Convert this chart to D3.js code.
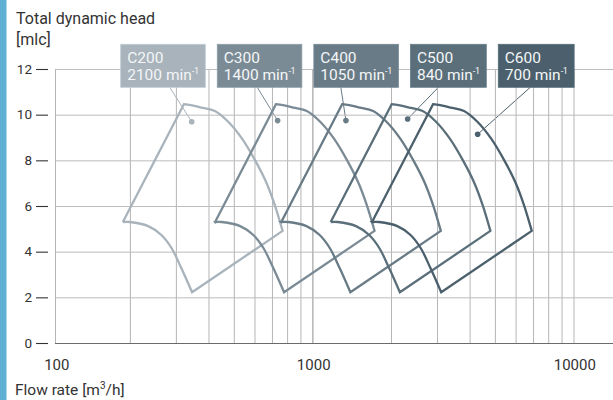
<!DOCTYPE html>
<html>
<head>
<meta charset="utf-8">
<script src="https://cdn.jsdelivr.net/npm/d3@7/dist/d3.min.js"></script>
<style>
  html, body { margin: 0; padding: 0; background: #fff; }
  svg { display: block; font-family: Roboto, "Noto Sans", sans-serif; }
</style>
</head>
<body>
<svg id="chart" width="613" height="400"></svg>
<script>
// ---------------- DATA ----------------
const pumps  = ["C200", "C300", "C400", "C500", "C600"];
const speeds = ["2100", "1400", "1050", "840", "700"];

// Upper boundary: from top-left corner along the curve to the right-hand corner (flow, m3/h)
const topFlow = [
  [322, 350, 376, 423, 476, 536, 602, 668, 718, 769],
  [725, 788, 846, 952, 1071, 1206, 1355, 1503, 1616, 1730],
  [1300, 1413, 1518, 1708, 1922, 2164, 2430, 2697, 2899, 3104],
  [2012, 2187, 2350, 2644, 2975, 3350, 3763, 4175, 4488, 4806],
  [2898, 3150, 3384, 3807, 4284, 4824, 5418, 6012, 6462, 6921]
];
const topHead = [10.46, 10.40, 10.31, 10.16, 9.69, 8.97, 8.02, 7.00, 6.04, 4.91];

// Lower boundary: from the bottom corner up to the left-hand corner (flow, m3/h)
const bottomFlow = [
  [346, 315, 289, 264, 235, 200, 188],
  [779, 709, 650, 594, 529, 450, 424],
  [1398, 1273, 1167, 1066, 949, 808, 760],
  [2163, 1969, 1806, 1650, 1469, 1250, 1175],
  [3114, 2835, 2601, 2376, 2115, 1800, 1692]
];
const bottomHead = [2.22, 3.27, 4.15, 4.73, 5.12, 5.30, 5.30];

// Best-efficiency markers
const dotFlow = [345, 736, 1344, 2316, 4295];
const dotHead = [9.69, 9.74, 9.74, 9.81, 9.14];

const yTicks = [0, 2, 4, 6, 8, 10, 12];
const xTickLabels = [100, 1000, 10000];
const xGrid = [200, 300, 400, 500, 600, 700, 800, 900, 1000,
               2000, 3000, 4000, 5000, 6000, 7000, 8000, 9000, 10000];

// ---------------- STYLE / LAYOUT ----------------
const colors = ["#a8b3bb", "#7b8b96", "#697b86", "#5b6f7b", "#4b606c"];
const leaderOffset = [49, 40, 27, 28, 32];   // x of leader start, relative to box left
const W = 613, H = 400;
const plotLeft = 55, plotRight = 613, plotTop = 69, plotBottom = 343;

const svg = d3.select("#chart");

const x = d3.scaleLog().domain([100, 10000]).range([51.3, 573.5]);
const y = d3.scaleLinear().domain([0, 12]).range([plotBottom, plotTop]);

// left blue strip
svg.append("rect").attr("x", 0).attr("y", 0).attr("width", 6.5).attr("height", H)
  .attr("fill", "#5fb0d2");

// vertical grid
const gx = svg.append("g").attr("transform", `translate(0,${plotBottom})`)
  .call(d3.axisBottom(x).tickValues(xGrid).tickSize(-(plotBottom - plotTop)).tickFormat(""));
gx.select(".domain").remove();
gx.selectAll("line").attr("stroke", "#b5b5b5").attr("stroke-width", 1);
gx.selectAll("line").filter(d => d === 1000).attr("stroke", "#8f8f8f");

// horizontal grid
const gy = svg.append("g").attr("transform", `translate(${plotLeft},0)`)
  .call(d3.axisLeft(y).tickValues(yTicks.slice(1)).tickSize(-(plotRight - plotLeft)).tickFormat(""));
gy.select(".domain").remove();
gy.selectAll("line").attr("stroke", "#bdbdbd").attr("stroke-width", 1);

// left frame line
svg.append("line").attr("x1", plotLeft + 0.5).attr("x2", plotLeft + 0.5)
  .attr("y1", plotTop).attr("y2", plotBottom).attr("stroke", "#b5b5b5");

// bottom axis line
svg.append("line").attr("x1", plotLeft).attr("x2", plotRight)
  .attr("y1", plotBottom + 0.5).attr("y2", plotBottom + 0.5)
  .attr("stroke", "#6a6a6a").attr("stroke-width", 1.2);

// y axis ticks (dashes + labels)
const ya = svg.append("g").attr("transform", "translate(48,0)")
  .call(d3.axisLeft(y).tickValues(yTicks).tickSize(12).tickPadding(4).tickFormat(d3.format("d")));
ya.select(".domain").remove();
ya.selectAll("line").attr("stroke", "#333").attr("stroke-width", 1.1);
ya.selectAll("text").attr("font-size", "13.5px").attr("fill", "#333")
  .attr("font-family", "Roboto, sans-serif");

// x axis labels
const xa = svg.append("g").attr("transform", `translate(0,${plotBottom})`)
  .call(d3.axisBottom(x).tickValues(xTickLabels).tickSize(0).tickPadding(16.5).tickFormat(d3.format("d")));
xa.select(".domain").remove();
xa.selectAll("text").attr("font-size", "15px").attr("fill", "#333")
  .attr("font-family", "Roboto, sans-serif")
  .attr("dx", d => d === 100 ? 5 : 0.8);

// axis titles
svg.append("text").attr("x", 16).attr("y", 24.3).attr("font-size", "16px").attr("fill", "#333")
  .text("Total dynamic head");
svg.append("text").attr("x", 16).attr("y", 44.5).attr("font-size", "16px").attr("fill", "#333")
  .text("[mlc]");
const ft = svg.append("text").attr("x", 15).attr("y", 395).attr("font-size", "15.5px").attr("fill", "#333");
ft.append("tspan").text("Flow rate [m");
ft.append("tspan").text("3").attr("font-size", "10px").attr("dy", -6);
ft.append("tspan").text("/h]").attr("dy", 6);

// curves
const lineCR = d3.line().x(d => x(d[0])).y(d => y(d[1])).curve(d3.curveCatmullRom.alpha(0.5));
pumps.forEach((p, i) => {
  const topPts = topFlow[i].map((q, k) => [q, topHead[k]]);
  const botPts = bottomFlow[i].map((q, k) => [q, bottomHead[k]]);
  const start = botPts[botPts.length - 1];
  const d = `M${x(start[0])},${y(start[1])}` +
    lineCR(topPts).replace(/^M/, "L") +
    lineCR(botPts).replace(/^M/, "L") + "Z";
  svg.append("path").attr("d", d).attr("fill", "none")
    .attr("stroke", colors[i]).attr("stroke-width", 2.3)
    .attr("stroke-linejoin", "miter");
});

// labels (boxes) with leader lines and dots
const boxTop = 44.3, boxH = 43;
let bx = 120.7;
pumps.forEach((p, i) => {
  const g = svg.append("g");
  const rect = g.append("rect").attr("y", boxTop).attr("height", boxH)
    .attr("fill", colors[i]).attr("stroke", d3.color(colors[i]).brighter(0.35)).attr("stroke-width", 0.8);
  const t1 = g.append("text").attr("y", boxTop + 19).attr("font-size", "15.5px").attr("fill", "#f4f6f7").text(p);
  const t2 = g.append("text").attr("y", boxTop + 35.7).attr("font-size", "15.5px").attr("fill", "#f4f6f7");
  t2.append("tspan").text(speeds[i] + " min");
  t2.append("tspan").text("-1").attr("font-size", "9px").attr("dy", -6).attr("letter-spacing", "-0.3");
  const tw = Math.max(t1.node().getComputedTextLength(), t2.node().getComputedTextLength());
  const w = tw + 13;
  rect.attr("x", bx).attr("width", w);
  t1.attr("x", bx + 6.5);
  t2.attr("x", bx + 6.5);
  // leader
  const lx = bx + leaderOffset[i];
  svg.insert("line", "g").attr("x1", lx).attr("y1", boxTop + boxH)
    .attr("x2", x(dotFlow[i])).attr("y2", y(dotHead[i]))
    .attr("stroke", colors[i]).attr("stroke-width", 1);
  svg.append("circle").attr("cx", x(dotFlow[i])).attr("cy", y(dotHead[i])).attr("r", 2.8)
    .attr("fill", colors[i]);
  bx += w + 12;
});
</script>
</body>
</html>
